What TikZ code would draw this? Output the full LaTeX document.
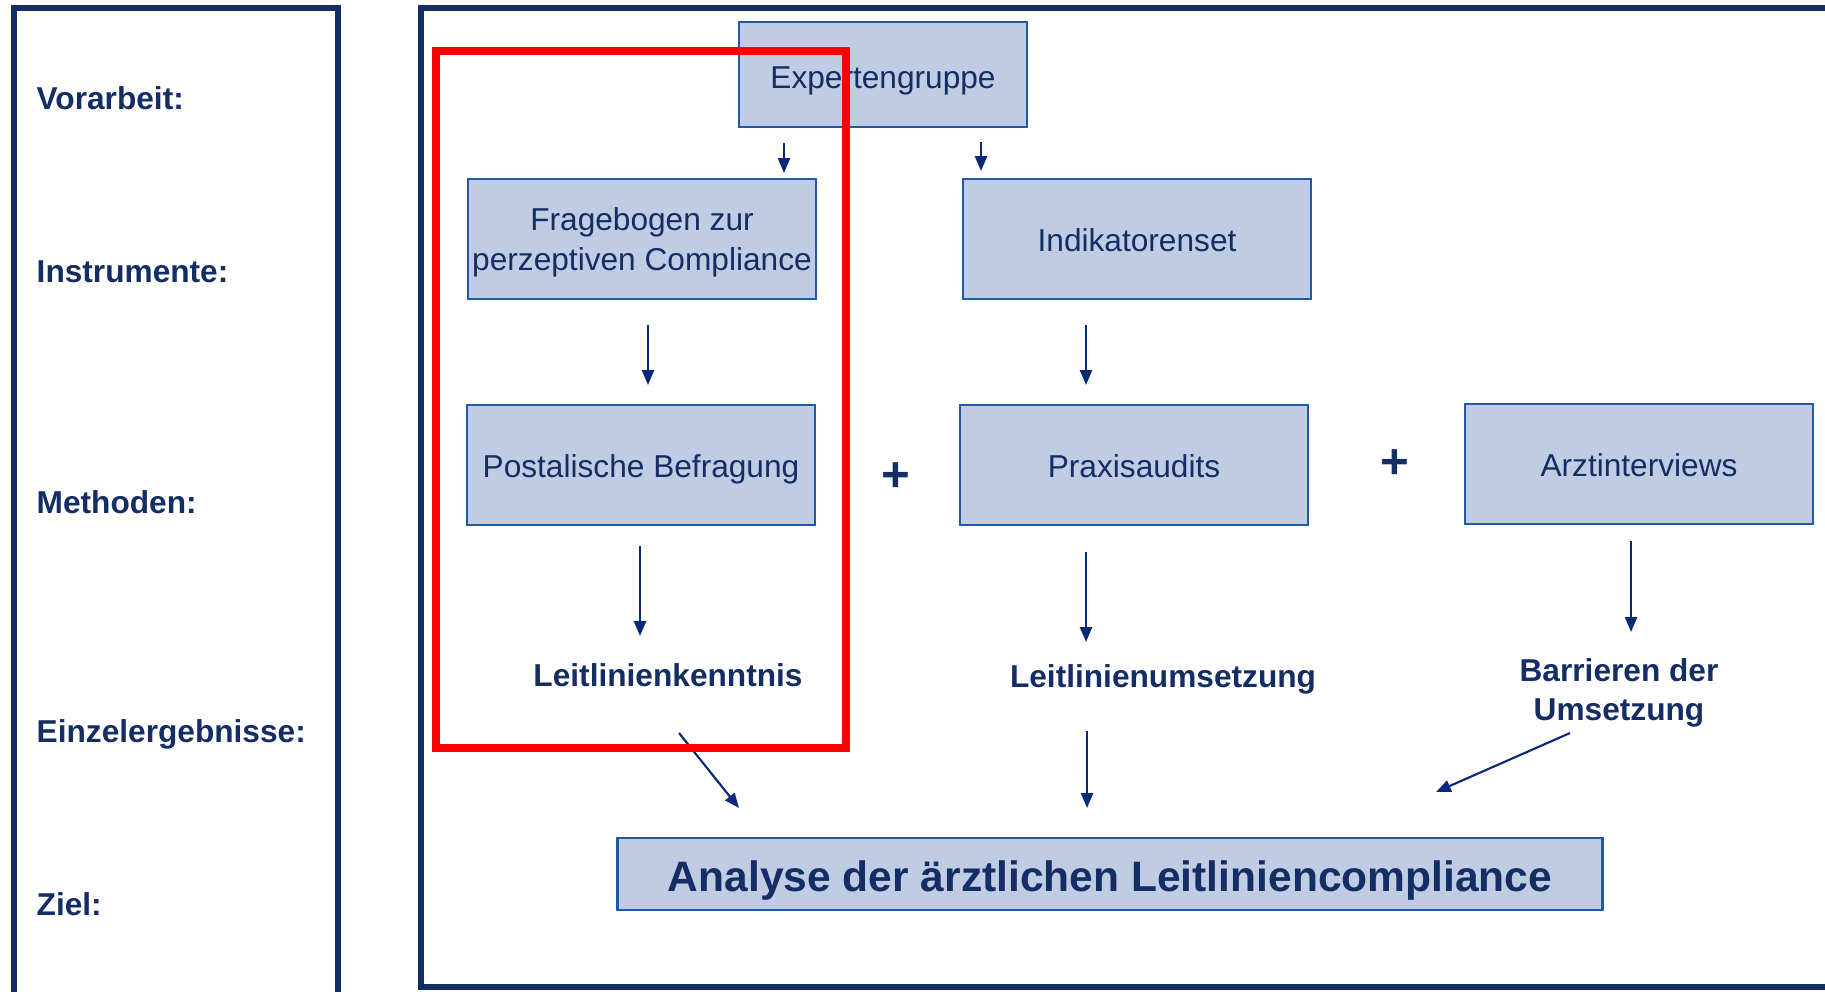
\documentclass[tikz,border=0pt]{standalone}
\usepackage{fontspec}
\setmainfont{Liberation Sans}
\usetikzlibrary{arrows.meta}
\definecolor{navy}{RGB}{20,45,100}
\definecolor{boxfill}{RGB}{191,204,228}
\definecolor{boxline}{RGB}{30,90,165}
\definecolor{arrowc}{RGB}{10,40,120}
\begin{document}
\begin{tikzpicture}[x=0.01cm,y=-0.01cm,
  box/.style={draw=boxline, line width=0.7pt, fill=boxfill, text=navy,
    font=\fontsize{9}{11.3}\selectfont, align=center, inner sep=0pt},
  one/.style={text height=0.73em, text depth=0pt},
  res/.style={text=navy, font=\bfseries\fontsize{9}{10.8}\selectfont, align=center, inner sep=0pt},
  lbl/.style={text=navy, font=\bfseries\fontsize{9}{11}\selectfont, anchor=west, inner sep=0pt},
  plus/.style={text=navy, font=\bfseries\fontsize{14}{14}\selectfont, inner sep=0pt},
  arr/.style={draw=arrowc, line width=0.6pt, -{Triangle[length=4.2pt,width=3.4pt]}},
  frame/.style={draw=navy, line width=1.7pt}]
\useasboundingbox (0,0) rectangle (1825,991);
\begin{scope}
\clip (0,0) rectangle (1825,991);
\draw[frame] (14,8) rectangle (338,1010);
\draw[frame] (421,8) rectangle (1850,987);
\end{scope}

% left labels
\node[lbl] (l1) at (36,98) {Vorarbeit:};
\node[lbl] (l2) at (36,272) {Instrumente:};
\node[lbl] (l3) at (36,502) {Methoden:};
\node[lbl] (l4) at (36,734) {Einzelergebnisse:};
\node[lbl] (l5) at (36,904) {Ziel:};

% boxes
\node[box, text height=8pt, text depth=0pt, minimum width=2.88cm, minimum height=1.05cm] (exp) at (883,74.5) {Expertengruppe};
\node[box, text depth=0pt, minimum width=3.48cm, minimum height=1.2cm] (frag) at (642,239) {Fragebogen zur\\perzeptiven Compliance};
\node[box, one, minimum width=3.48cm, minimum height=1.2cm] (ind) at (1137,239) {Indikatorenset};
\node[box, one, minimum width=3.48cm, minimum height=1.2cm] (post) at (641,465) {Postalische Befragung};
\node[box, one, minimum width=3.48cm, minimum height=1.2cm] (prax) at (1134,465) {Praxisaudits};
\node[box, one, minimum width=3.48cm, minimum height=1.2cm] (arzt) at (1639,464) {Arztinterviews};
\node[box, text height=9.8pt, text depth=0pt, minimum width=9.84cm, minimum height=0.72cm,
  font=\bfseries\fontsize{12.1}{14}\selectfont] (ana) at (1110,874) {Analyse der ärztlichen Leitliniencompliance};

% results
\node[res] (lk) at (668,675) {Leitlinienkenntnis};
\node[res] (lu) at (1163,679) {Leitlinienumsetzung};
\node[res, font=\bfseries\fontsize{9}{11}\selectfont] (bar) at (1619,693) {Barrieren der\\Umsetzung};

% plus signs
\node[plus] (p1) at (896,477) {+};
\node[plus] (p2) at (1395,464) {+};

% arrow endpoints
\coordinate (a1s) at (784,143); \coordinate (a1e) at (784,173);
\coordinate (a2s) at (981,142); \coordinate (a2e) at (981,171);
\coordinate (a3s) at (648,325); \coordinate (a3e) at (648,385);
\coordinate (a4s) at (1086,325); \coordinate (a4e) at (1086,385);
\coordinate (a5s) at (640,546); \coordinate (a5e) at (640,636);
\coordinate (a6s) at (1086,552); \coordinate (a6e) at (1086,642);
\coordinate (a7s) at (1631,541); \coordinate (a7e) at (1631,632);
\coordinate (a8s) at (679,733); \coordinate (a8e) at (739,808);
\coordinate (a9s) at (1087,731); \coordinate (a9e) at (1087,808);
\coordinate (a10s) at (1570,733); \coordinate (a10e) at (1436,792);

\draw[arr] (a1s) -- (a1e);
\draw[arr] (a2s) -- (a2e);
\draw[arr] (a3s) -- (a3e);
\draw[arr] (a4s) -- (a4e);
\draw[arr] (a5s) -- (a5e);
\draw[arr] (a6s) -- (a6e);
\draw[arr] (a7s) -- (a7e);
\draw[arr] (a8s) -- (a8e);
\draw[arr] (a9s) -- (a9e);
\draw[arr] (a10s) -- (a10e);

% red highlight
\draw[draw=red, line width=2pt] (436,51) rectangle (846,748);
\end{tikzpicture}
\end{document}
